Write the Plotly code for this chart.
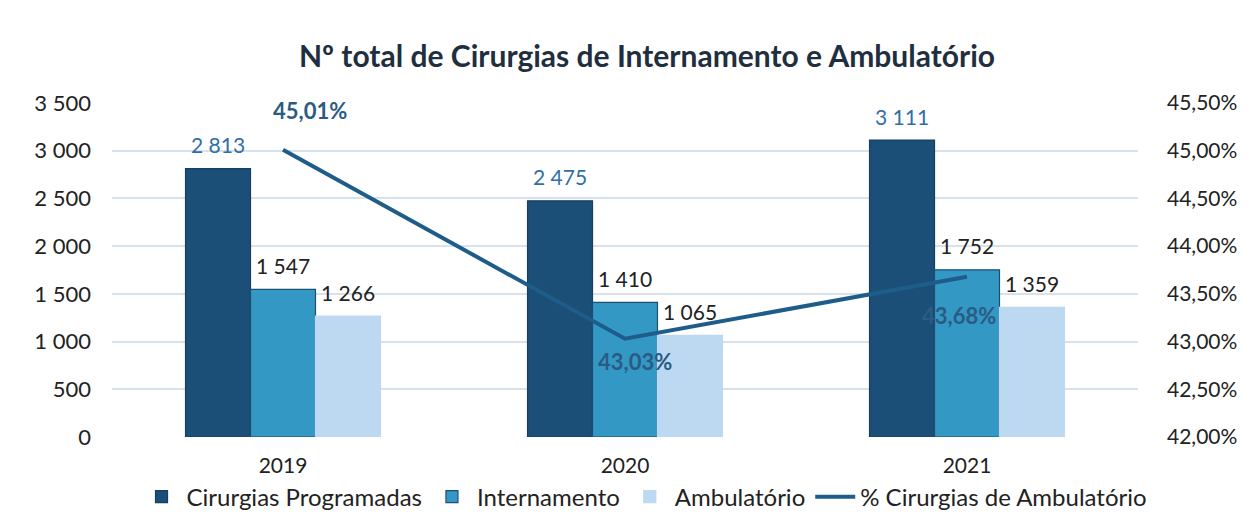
import plotly.graph_objects as go

years = ["2019", "2020", "2021"]
programadas = [2813, 2475, 3111]
internamento = [1547, 1410, 1752]
ambulatorio = [1266, 1065, 1359]
pct_ambulatorio = [0.4501, 0.4303, 0.4368]

FONT = "Lato"
BARGAP = 0.43
series = [
    ("Cirurgias Programadas", programadas, "#1b4f78", "#163f60", "#2f6ea8"),
    ("Internamento", internamento, "#3399c4", "#1d4f70", "#222222"),
    ("Ambulatório", ambulatorio, "#bdd9f1", "#bdd9f1", "#222222"),
]

def fmt(v):
    return f"{v:,}".replace(",", " ")

fig = go.Figure()
annotations = []
bar_w = (1 - BARGAP) / len(series)
for k, (name, vals, col, lcol, tcol) in enumerate(series):
    fig.add_trace(go.Bar(
        x=years, y=vals, name=name,
        marker=dict(color=col, line=dict(color=lcol, width=1.2)),
    ))
    off = (k - (len(series) - 1) / 2) * bar_w
    for i, v in enumerate(vals):
        annotations.append(dict(
            x=i + off, y=v, xref="x", yref="y", text=fmt(v), showarrow=False,
            yanchor="middle", yshift=24,
            font=dict(family=FONT, size=21, color=tcol),
        ))

fig.add_trace(go.Scatter(
    x=years, y=pct_ambulatorio, name="% Cirurgias de Ambulatório",
    yaxis="y2", mode="lines",
    line=dict(color="#1e5c8a", width=4),
))
pct_shift = [(27, 39), (10, -23), (-8, -39)]
for i, v in enumerate(pct_ambulatorio):
    annotations.append(dict(
        x=i, y=v, xref="x", yref="y2",
        text="<b>" + f"{v*100:.2f}%".replace(".", ",") + "</b>",
        showarrow=False, xshift=pct_shift[i][0], yshift=pct_shift[i][1],
        font=dict(family=FONT, size=22, color="#2a5b85"),
    ))

fig.update_layout(
    width=1253, height=526,
    paper_bgcolor="white", plot_bgcolor="white",
    separators=", ",
    font=dict(family=FONT, size=21, color="#222222"),
    title=dict(text="<b>Nº total de Cirurgias de Internamento e Ambulatório</b>",
               x=0.51, xanchor="center", y=0.907, yanchor="middle", yref="container",
               font=dict(size=30, color="#1f2f40", family=FONT)),
    margin=dict(l=104, r=123, t=95, b=97, autoexpand=False),
    barmode="group", bargap=BARGAP, bargroupgap=0,
    xaxis=dict(type="category", showgrid=False, showline=False, ticks="",
               ticklabelstandoff=14,
               tickfont=dict(size=21, color="#222222")),
    yaxis=dict(range=[0, 3500], dtick=500, tickformat=",d",
               gridcolor="#d8e2ec", gridwidth=1.5, zeroline=False,
               ticklabelstandoff=20,
               tickfont=dict(size=22, color="#222222")),
    yaxis2=dict(range=[0.42, 0.455], dtick=0.005, tickformat=".2%",
                overlaying="y", side="right", showgrid=False, zeroline=False,
                ticklabelstandoff=28,
                tickfont=dict(size=21, color="#222222")),
    legend=dict(orientation="h", xref="container", x=0.508, xanchor="center",
                y=-0.18, yanchor="middle", bgcolor="rgba(0,0,0,0)",
                font=dict(size=24, color="#222222"), itemwidth=40,
                traceorder="normal"),
    annotations=annotations,
    showlegend=True,
)

fig.write_html("out.html")
